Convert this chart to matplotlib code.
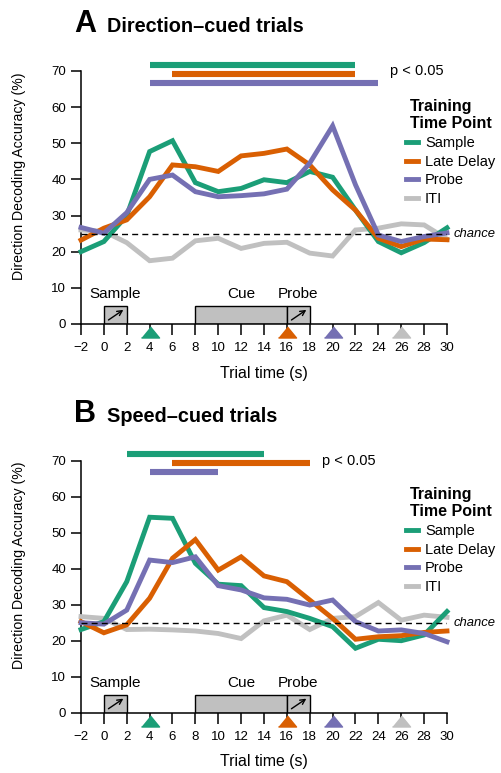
import matplotlib
matplotlib.use('Agg')
import matplotlib.pyplot as plt
import numpy as np

plt.rcParams['font.family'] = ['Liberation Sans', 'DejaVu Sans']

# Trial time (s), one point every 2 s
t = np.arange(-2, 31, 2)

series = ['Sample', 'Late Delay', 'Probe', 'ITI']
colors = {'Sample': '#1b9e77', 'Late Delay': '#d95f02',
          'Probe': '#7570b3', 'ITI': '#c0c0c0'}
train_time = {'Sample': 4, 'Late Delay': 16, 'Probe': 20, 'ITI': 26}

# Panel A - direction-cued trials
dir_sample = [20.0, 22.8, 30.0, 47.7, 50.7, 39.1, 36.6, 37.5, 39.9, 39.1, 42.2, 40.6, 31.5, 22.8, 19.7, 22.5, 26.6]
dir_late   = [23.2, 26.5, 28.8, 35.2, 44.0, 43.5, 42.2, 46.5, 47.2, 48.4, 44.0, 37.1, 31.5, 23.7, 21.4, 23.5, 23.3]
dir_probe  = [26.7, 25.1, 30.8, 40.0, 41.2, 36.6, 35.2, 35.5, 36.0, 37.3, 44.5, 54.8, 38.5, 24.6, 22.8, 24.2, 25.2]
dir_iti    = [26.0, 25.6, 22.5, 17.5, 18.2, 23.0, 23.7, 20.9, 22.3, 22.6, 19.6, 18.8, 26.0, 26.5, 27.7, 27.4, 23.5]

# Panel B - speed-cued trials
spd_sample = [23.1, 25.3, 36.4, 54.3, 54.0, 41.5, 35.7, 35.3, 29.2, 28.1, 26.2, 23.9, 17.9, 20.4, 20.0, 21.6, 28.1]
spd_late   = [25.3, 22.2, 24.4, 31.8, 42.9, 48.1, 39.6, 43.3, 38.0, 36.4, 31.3, 26.2, 20.4, 21.1, 21.4, 22.3, 22.7]
spd_probe  = [25.0, 24.6, 28.5, 42.4, 41.7, 43.3, 35.3, 34.1, 31.9, 31.5, 29.9, 31.3, 25.3, 22.7, 23.0, 22.0, 19.7]
spd_iti    = [26.7, 26.2, 23.1, 23.2, 23.0, 22.7, 22.0, 20.6, 25.5, 27.1, 23.1, 26.2, 26.7, 30.6, 25.7, 27.1, 26.5]

# significant periods (p < 0.05): start, end, bar height
dir_sig = {'Sample': (4, 22, 71.7), 'Late Delay': (6, 22, 69.2), 'Probe': (4, 24, 66.8)}
spd_sig = {'Sample': (2, 14, 71.9), 'Late Delay': (6, 18, 69.4), 'Probe': (4, 10, 66.9)}

# task epochs: label, start, end
epochs = [('Sample', 0, 2), ('Cue', 8, 16), ('Probe', 16, 18)]
epoch_h = 5
chance = 25

panels = [
    ('A', 'Direction\u2013cued trials',
     {'Sample': dir_sample, 'Late Delay': dir_late, 'Probe': dir_probe, 'ITI': dir_iti},
     dir_sig, 25.0, [0.5809, 0.3273], 0.959, 1 - 99 / 773),
    ('B', 'Speed\u2013cued trials',
     {'Sample': spd_sample, 'Late Delay': spd_late, 'Probe': spd_probe, 'ITI': spd_iti},
     spd_sig, 19.05, [0.078, 0.326], 0.4545, 1 - 487 / 773),
]

fig = plt.figure(figsize=(5.02, 7.73), dpi=100)

for letter, title, data, sig, p_x, (bot, hgt), title_y, leg_y in panels:
    ax = fig.add_axes([81 / 502, bot, 366 / 502, hgt])

    # epoch boxes
    for name, s, e in epochs:
        ax.add_patch(plt.Rectangle((s, 0), e - s, epoch_h, facecolor='#c0c0c0',
                                   edgecolor='k', lw=1, zorder=1))
    for name, s, e in epochs:
        cx = {'Sample': 1, 'Cue': 12, 'Probe': 17}[name]
        ax.text(cx, 7.1, name, ha='center', va='baseline', fontsize=11)
        if name != 'Cue':
            ax.annotate('', xy=(s + 1.7, 3.9), xytext=(s + 0.4, 1.1),
                        arrowprops=dict(arrowstyle='->,head_length=0.35,head_width=0.18',
                                        lw=1, color='k', shrinkA=0, shrinkB=0))

    # decoding curves
    for name in ['ITI', 'Sample', 'Late Delay', 'Probe']:
        ax.plot(t, data[name], color=colors[name], lw=3.5, label=name,
                solid_joinstyle='miter', clip_on=False, zorder=3)

    ax.hlines(chance, -2, 30, colors='k', lw=1.0, linestyles=(0, (4.3, 3)), zorder=4)
    ax.text(30.6, chance, 'chance', fontstyle='italic', fontsize=9.4, va='center', ha='left')

    # significance bars
    for name, (s, e, y) in sig.items():
        ax.plot([s, e], [y, y], color=colors[name], lw=4.4, solid_capstyle='butt',
                clip_on=False, zorder=3)
    ax.text(p_x, 68.8, 'p < 0.05', fontsize=10.5, va='baseline', ha='left')

    # training time markers
    tri = [(-1, -0.61), (1, -0.61), (0, 0.61)]
    for name in series:
        ax.plot(train_time[name], -2.35, marker=tri, markersize=13, color=colors[name],
                ls='none', clip_on=False, zorder=5)

    ax.set_xlim(-2, 30)
    ax.set_ylim(0, 70)
    ax.set_xticks(np.arange(-2, 31, 2))
    ax.set_yticks(np.arange(0, 71, 10))
    for side in ['left', 'bottom']:
        ax.spines[side].set_linewidth(1.1)
    ax.spines['top'].set_visible(False)
    ax.spines['right'].set_visible(False)
    ax.tick_params(axis='x', direction='out', length=8, width=1.1, labelsize=9.5, pad=5)
    ax.tick_params(axis='y', direction='out', length=7.2, width=1.1, labelsize=9.5, pad=3.5)
    ax.set_xlabel('Trial time (s)', fontsize=11.4)
    ax.set_ylabel('Direction Decoding Accuracy (%)', fontsize=10.2)
    ax.xaxis.set_label_coords(0.5, -0.165)
    ax.yaxis.set_label_coords(-0.15, 0.585)

    handles, labels = ax.get_legend_handles_labels()
    order = [labels.index(n) for n in series]
    leg = ax.legend([handles[i] for i in order], series, title='Training\nTime Point',
                    loc='upper left', bbox_to_anchor=(406 / 502, leg_y),
                    bbox_transform=fig.transFigure, frameon=False, fontsize=10.5,
                    title_fontproperties={'weight': 'bold', 'size': 11.5},
                    handlelength=0.85, handletextpad=0.45, labelspacing=0.32,
                    borderpad=0, borderaxespad=0)

    fig.text(74 / 502, title_y, letter, fontsize=22, weight='bold', va='baseline')
    fig.text(107 / 502, title_y, title, fontsize=14.3, weight='bold', va='baseline')

fig.savefig('out.png', dpi=100)
